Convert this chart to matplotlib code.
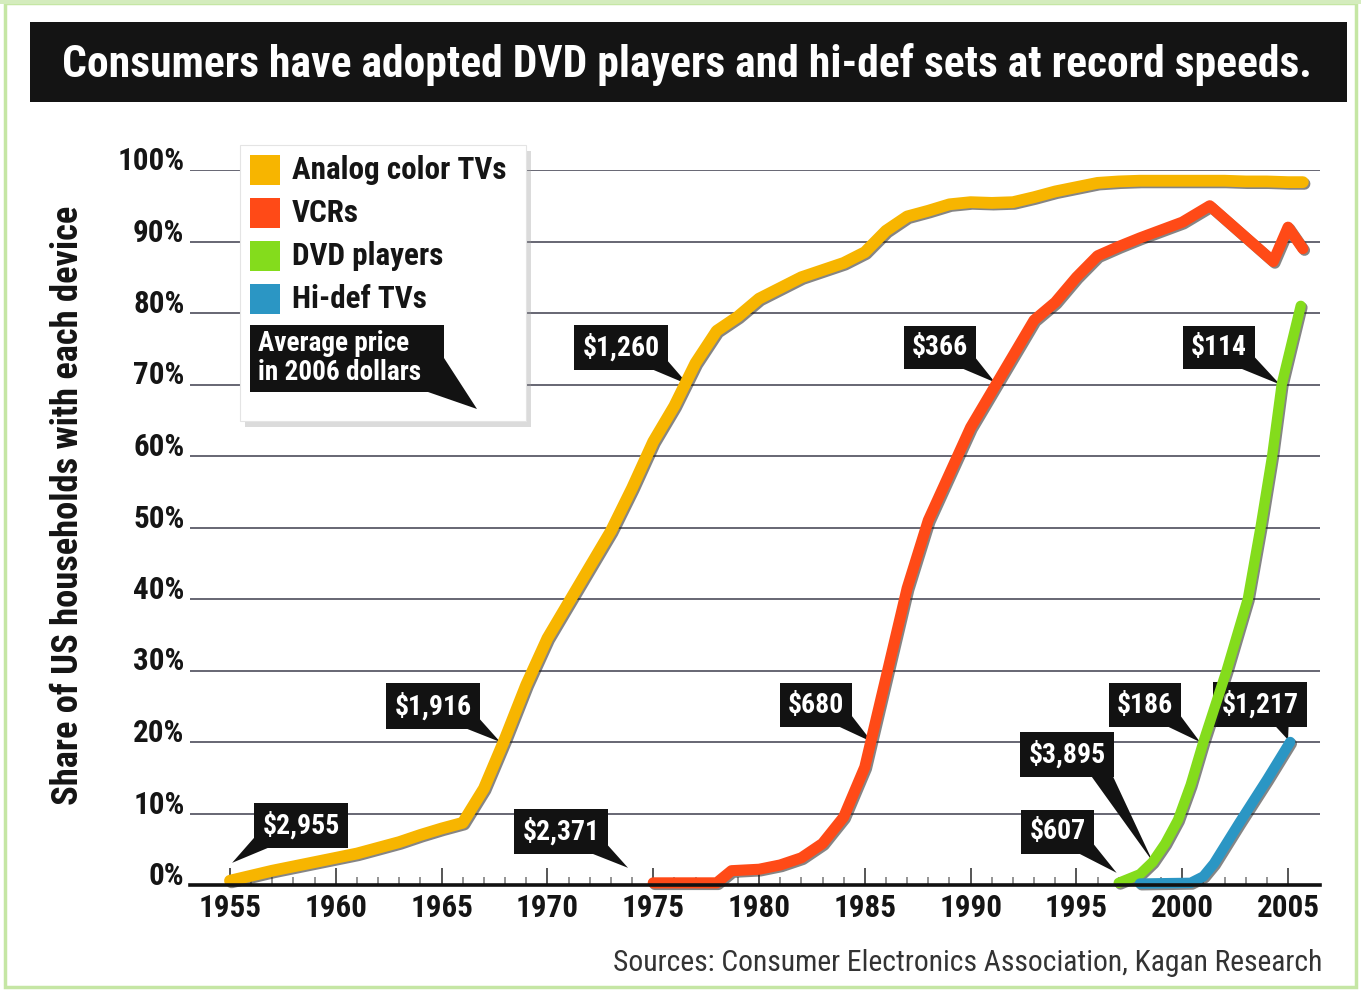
import numpy as np
import matplotlib.pyplot as plt
import matplotlib.patheffects as pe
from matplotlib import font_manager as fm
from matplotlib.patches import Rectangle, Polygon

# pick a narrow sans if one is installed, otherwise an Arial-like face
_narrow = [f for f in fm.fontManager.ttflist
           if f.stretch in ('condensed', 'semi-condensed', 'extra-condensed')]
_names = {f.name for f in fm.fontManager.ttflist}
FACE, STRETCH = None, 'normal'
for cand in ['Liberation Sans Narrow', 'Roboto Condensed', 'Noto Sans', 'DejaVu Sans',
             'Open Sans']:
    hits = [f for f in _narrow if f.name == cand]
    if hits:
        FACE, STRETCH = cand, hits[0].stretch
        break
if FACE is None:
    FACE = 'Liberation Sans' if 'Liberation Sans' in _names else 'DejaVu Sans'
plt.rcParams['font.family'] = [FACE, 'DejaVu Sans']
plt.rcParams['font.stretch'] = STRETCH

# household share (%) by year
tv_years = list(range(1955, 2006)) + [2005.7]
tv_share = [0.6, 1.3, 2.0, 2.6, 3.2, 3.8, 4.4, 5.2, 6.0, 7.0, 7.9, 8.7,
            13.5, 20.5, 28.0, 34.5, 39.5, 44.5, 49.5, 55.5, 62.0, 67.0, 73.0, 77.5, 79.5, 82.0,
            83.5, 85.0, 86.0, 87.0, 88.5, 91.5, 93.5, 94.3, 95.2, 95.5,
            95.4, 95.5, 96.2, 97.0, 97.6, 98.2, 98.4, 98.5, 98.5, 98.5,
            98.5, 98.5, 98.4, 98.4, 98.3, 98.3]

vcr_years = [1975, 1978, 1978.7, 1980, 1981, 1982, 1983, 1984, 1985, 1986, 1987, 1988,
             1989, 1990, 1991, 1992, 1993, 1994, 1995, 1996, 1997, 1998, 1999, 2000,
             2001.3, 2004.3, 2005, 2005.7]
vcr_share = [0.3, 0.3, 2.0, 2.2, 2.8, 3.8, 5.8, 9.5, 16.5, 29.0, 41.5, 51.0,
             57.5, 64.0, 69.0, 74.0, 79.0, 81.5, 85.0, 88.0, 89.3, 90.5, 91.6, 92.7,
             95.0, 87.2, 92.0, 89.0]

dvd_years = [1997, 1998, 1998.6, 1999.2, 1999.8, 2000.4, 2001, 2002.1, 2003.1, 2003.7,
             2004.25, 2004.7, 2005.6]
dvd_share = [0.3, 1.5, 3.2, 5.8, 9.1, 14.0, 20.0, 30.0, 40.0, 50.0, 60.0, 70.0, 81.0]

hd_years = [1998, 2000.4, 2001, 2001.5, 2002.7, 2004, 2005.1]
hd_share = [0.2, 0.3, 1.2, 3.0, 8.7, 14.7, 20.0]

series_names = ['Analog color TVs', 'VCRs', 'DVD players', 'Hi-def TVs']
series_colors = ['#f7b500', '#ff4a17', '#84dc1c', '#2b96c4']
series_widths = [8.5, 8, 7.5, 7.5]

# average price callouts: label, year and share the pointer lands on
price_labels = ['$2,955', '$1,916', '$2,371', '$1,260', '$366', '$680',
                '$114', '$186', '$1,217', '$3,895', '$607']
price_years = [1955.1, 1967.77, 1973.81, 1976.65, 1991.15, 1985.34,
               2004.62, 2000.84, 2005.0, 1998.62, 1996.9]
price_share = [3.1, 20.0, 2.4, 70.0, 70.3, 20.0, 70.0, 20.0, 20.3, 3.2, 1.7]
# box offset from pointer tip in pixels, and where the tail leaves the box
box_offsets = [(69, 37), (-67, 36), (-67, 36), (-67, 37), (-55, 35), (-56, 37),
               (-61, 37), (-55, 37), (-28, 35), (-86, 108), (-59, 41)]
tail_anchor = [(0.08, 0.12), (0.9, 0.12), (0.9, 0.12), (0.9, 0.12), (0.9, 0.12),
               (0.9, 0.12), (0.9, 0.12), (0.9, 0.12), (0.75, 0.1), (0.88, 0.1),
               (0.88, 0.12)]

year_ticks = list(range(1955, 2006, 5))
pct_ticks = list(range(0, 101, 10))

W, H = 1361, 990


def fx(px):
    return px / W


def fy(py):
    return 1 - py / H


fig = plt.figure(figsize=(W / 100, H / 100), dpi=100, facecolor='white')
renderer = fig.canvas.get_renderer()


def width_of(t, vertical=False):
    bb = t.get_window_extent(renderer)
    return bb.height if vertical else bb.width


def fit(texts, ref, target, vertical=False):
    # scale a group of texts so that ref spans target pixels
    k = target / width_of(ref, vertical)
    for t in texts:
        t.set_fontsize(t.get_fontsize() * k)
    return k


# light green frame and black title bar
fig.patches.append(Rectangle((fx(5), fy(987)), fx(1351), 984 / H, transform=fig.transFigure,
                             fill=False, ec='#c5e6a4', lw=2.5, zorder=0))
fig.patches.append(Rectangle((0, fy(4)), 1, 4 / H, transform=fig.transFigure,
                             fc='#d4ecbd', ec='none', zorder=0))
fig.patches.append(Rectangle((fx(30), fy(102)), fx(1317), 80 / H, transform=fig.transFigure,
                             fc='#141414', ec='none', zorder=1))
title = fig.text(fx(687), fy(65),
                 'Consumers have adopted DVD players and hi-def sets at record speeds.',
                 color='white', fontsize=34, fontweight='bold', ha='center', va='center',
                 zorder=2)
fit([title], title, 1252)

ax = fig.add_axes([fx(190), fy(885), fx(1130), 715 / H])
ax.set_xlim(1953.11, 2006.51)
ax.set_ylim(0, 100)

series = [(tv_years, tv_share), (vcr_years, vcr_share),
          (dvd_years, dvd_share), (hd_years, hd_share)]
for (xs, ys), col, lw in zip(series, series_colors, series_widths):
    ax.plot(xs, ys, color=col, lw=lw, solid_capstyle='round', solid_joinstyle='round',
            zorder=4, clip_on=False,
            path_effects=[pe.SimpleLineShadow(offset=(1.2, -1.2), shadow_color='#222',
                                              alpha=0.55), pe.Normal()])

# tick label size chosen so a year label is about 63 px wide
probe = fig.text(0, 0, '1955', fontsize=22, fontweight='bold')
tick_size = 22 * 63 / width_of(probe)
probe.remove()

ax.set_yticks(pct_ticks)
ax.set_yticklabels([f'{p}%' for p in pct_ticks])
ax.set_xticks(year_ticks)
ax.set_xticks(range(1955, 2006), minor=True)
ax.grid(axis='y', color='#3d3d4d', lw=1.1)
ax.set_axisbelow(True)
for s in ['left', 'right', 'top']:
    ax.spines[s].set_visible(False)
ax.spines['bottom'].set_linewidth(2.6)
ax.spines['bottom'].set_color('#111')
ax.spines['bottom'].set_zorder(5)
ax.tick_params(axis='y', length=0, pad=4, labelsize=tick_size, labelcolor='#151515')
ax.tick_params(axis='x', which='major', direction='in', length=12, width=1.4,
               color='#555', pad=6, labelsize=tick_size, labelcolor='#151515')
ax.tick_params(axis='x', which='minor', direction='in', length=6, width=1.1, color='#777')
for t in ax.get_yticklabels() + ax.get_xticklabels():
    t.set_fontweight('bold')
for t in ax.get_yticklabels():
    t.set_va('baseline')

probe = fig.text(0, 0, '$1,260', fontsize=19, fontweight='bold')
call_size = 19 * 77 / width_of(probe)
probe.remove()
for lab, yr, sh, off, rel in zip(price_labels, price_years, price_share,
                                 box_offsets, tail_anchor):
    ax.annotate(lab, xy=(yr, sh), xytext=off, textcoords='offset pixels',
                ha='center', va='center', color='white', fontsize=call_size,
                fontweight='bold',
                bbox=dict(boxstyle='square,pad=0.3', fc='#121212', ec='none'),
                arrowprops=dict(arrowstyle='wedge,tail_width=0.75,shrink_factor=0.5',
                                fc='#121212', ec='none', relpos=rel, patchA=None,
                                shrinkA=0, shrinkB=0, mutation_scale=20),
                zorder=3, annotation_clip=False)

# legend panel
fig.patches.append(Rectangle((fx(245), fy(427)), fx(286), 276 / H, transform=fig.transFigure,
                             fc='#9a9a9a', alpha=0.35, ec='none', zorder=5))
fig.patches.append(Rectangle((fx(240), fy(421)), fx(286), 276 / H, transform=fig.transFigure,
                             fc='white', ec='#e4e4e4', lw=0.8, zorder=6))
entries = []
for i, (name, col) in enumerate(zip(series_names, series_colors)):
    yc = 170 + i * 43
    fig.patches.append(Rectangle((fx(250), fy(yc + 15)), fx(30), 30 / H,
                                 transform=fig.transFigure, fc=col, ec='none', zorder=7))
    entries.append(fig.text(fx(292), fy(yc), name, fontsize=20, fontweight='bold',
                            color='#151515', ha='left', va='center', zorder=7))
fit(entries, entries[0], 215)
fig.patches.append(Polygon([(fx(428), fy(392)), (fx(444), fy(358)), (fx(477), fy(409))],
                           closed=True, transform=fig.transFigure, fc='#121212', ec='none',
                           zorder=7))
fig.patches.append(Rectangle((fx(250), fy(392)), fx(194), 67 / H, transform=fig.transFigure,
                             fc='#121212', ec='none', zorder=7))
avg = fig.text(fx(258), fy(358), 'Average price\nin 2006 dollars', fontsize=16,
               fontweight='bold', color='white', ha='left', va='center', linespacing=1.1,
               zorder=8)
fit([avg], avg, 163)

ylab = fig.text(fx(68), fy(505), 'Share of US households with each device', rotation=90,
                fontsize=22, fontweight='bold', color='#151515', ha='center', va='center')
fit([ylab], ylab, 600, vertical=True)
src = fig.text(fx(1322), fy(963), 'Sources: Consumer Electronics Association, Kagan Research',
               fontsize=18, color='#333333', ha='right', va='center')
fit([src], src, 710)

fig.savefig('out.png', dpi=100)
